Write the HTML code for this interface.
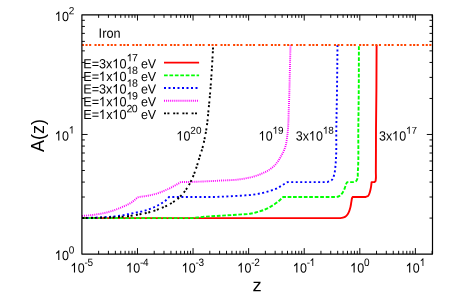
<!DOCTYPE html>
<html><head><meta charset="utf-8"><title>A(z)</title>
<style>
html,body{margin:0;padding:0;background:#fff;}
body{width:454px;height:292px;overflow:hidden;font-family:"Liberation Sans",sans-serif;}
svg{display:block}
text{font-family:"Liberation Sans",sans-serif;fill:#000;font-kerning:none}
.t{font-size:12.5px}
.s{font-size:10px}
.big{font-size:17.5px}
</style></head><body>
<svg width="454" height="292" viewBox="0 0 454 292">
<rect width="454" height="292" fill="#fff"/>

<g fill="none" stroke-width="1.9" stroke-linejoin="round">
<path d="M82.00,218.09 L336.00,218.09 C337.87,218.03 339.77,218.25 341.60,217.90 C342.76,217.68 343.97,217.49 345.00,216.90 C346.08,216.28 346.97,215.31 347.70,214.30 C348.48,213.23 348.93,211.94 349.40,210.70 C349.87,209.47 350.19,208.18 350.50,206.90 C350.91,205.16 351.08,203.36 351.40,201.60 C351.59,200.53 351.64,199.42 352.00,198.40 C352.17,197.93 352.40,197.48 352.60,197.02 L365.50,197.02 C366.40,196.62 367.50,196.50 368.20,195.80 C368.81,195.19 369.06,194.30 369.40,193.50 C369.94,192.23 370.20,190.85 370.50,189.50 C370.74,188.44 370.93,187.37 371.10,186.30 C371.32,184.90 371.43,183.49 371.60,182.08 L374.40,182.08 C374.73,181.79 375.16,181.57 375.40,181.20 C375.69,180.74 375.65,180.14 375.75,179.60 C376.20,177.11 375.82,174.53 375.85,172.00 C376.01,158.00 375.90,144.00 376.00,130.00 C376.09,116.67 376.30,103.33 376.40,90.00 C376.51,75.01 376.53,60.02 376.60,45.02" stroke="#ff0000"/>
<path d="M82.00,218.09 L192.00,218.09 C194.00,217.89 196.00,217.71 198.00,217.50 C200.00,217.28 202.00,216.99 204.00,216.80 C206.26,216.58 208.53,216.46 210.80,216.30 C215.95,215.95 221.10,215.72 226.25,215.40 C231.40,215.08 236.55,214.76 241.70,214.40 C244.47,214.21 247.26,214.23 250.00,213.80 C252.37,213.43 254.69,212.84 257.00,212.20 C259.37,211.54 261.72,210.82 264.00,209.90 C266.45,208.91 268.82,207.72 271.10,206.40 C273.61,204.95 276.05,203.34 278.30,201.50 C279.99,200.12 281.50,198.52 283.10,197.02 L309.20,197.02" stroke="#00ff00" stroke-dasharray="3.7000 1.6962"/>
<path d="M309.20,197.02 L333.00,197.02 C334.17,197.01 335.35,197.16 336.50,196.97 C337.14,196.87 337.79,196.73 338.40,196.50 C338.89,196.31 339.36,196.08 339.80,195.80 C340.63,195.26 341.29,194.48 341.90,193.70 C342.54,192.88 343.02,191.93 343.50,191.00 C344.16,189.72 344.64,188.35 345.15,187.00 C345.60,185.81 345.77,184.50 346.40,183.40 C346.66,182.94 347.00,182.52 347.30,182.08 L354.00,182.08 C354.77,181.65 355.71,181.45 356.30,180.80 C356.71,180.35 356.95,179.76 357.20,179.20 C358.20,177.01 357.63,174.40 357.80,172.00 C358.82,158.04 358.14,144.00 358.30,130.00 C358.45,116.67 358.65,103.33 358.75,90.00 C358.86,75.01 358.85,60.02 358.90,45.02" stroke="#00ff00" stroke-dasharray="3.7000 1.8024"/>
<path d="M82.00,218.09 C89.33,217.79 96.68,217.66 104.00,217.20 C107.97,216.95 111.95,216.78 115.90,216.30 C119.93,215.82 123.93,215.12 127.90,214.30 C129.27,214.02 130.63,213.69 132.00,213.40 C133.46,213.09 134.93,212.78 136.40,212.50 C137.73,212.25 139.07,212.07 140.40,211.80 C141.91,211.49 143.42,211.13 144.90,210.70 C146.42,210.26 147.92,209.76 149.40,209.20 C150.75,208.68 152.08,208.09 153.40,207.50 C154.75,206.89 156.09,206.27 157.40,205.60 C158.75,204.91 160.10,204.19 161.40,203.40 C162.77,202.56 164.16,201.73 165.40,200.70 C166.72,199.61 167.80,198.25 169.00,197.02 L194.90,197.02" stroke="#0000ff" stroke-dasharray="2.0000 2.5183"/>
<path d="M194.90,197.02 L215.00,197.02 C223.33,196.58 231.67,196.26 240.00,195.70 C244.00,195.43 248.02,195.31 252.00,194.80 C256.03,194.28 260.05,193.58 264.00,192.60 C266.56,191.97 269.10,191.23 271.60,190.40 C273.18,189.87 274.78,189.37 276.30,188.70 C278.99,187.51 281.36,185.70 283.90,184.20 C285.10,183.49 286.30,182.79 287.50,182.08 L309.20,182.08" stroke="#0000ff" stroke-dasharray="2.0000 2.5004"/>
<path d="M309.20,182.08 L327.50,182.08 C328.97,181.35 330.74,181.05 331.90,179.90 C333.27,178.54 333.63,176.44 334.20,174.60 C334.95,172.15 335.06,169.55 335.35,167.00 C335.61,164.67 335.75,162.34 335.90,160.00 C336.56,150.02 336.15,140.00 336.30,130.00 C336.50,116.67 336.81,103.33 337.00,90.00 C337.22,75.01 337.33,60.02 337.50,45.02" stroke="#0000ff" stroke-dasharray="2.0000 2.4802"/>
<path d="M82.00,216.00 C85.90,215.60 89.82,215.34 93.70,214.80 C98.30,214.16 102.91,213.49 107.40,212.30 C110.31,211.53 113.18,210.60 116.00,209.55 C117.72,208.91 119.41,208.21 121.10,207.50 C123.39,206.54 125.70,205.64 127.90,204.50 C129.23,203.82 130.56,203.14 131.80,202.30 C133.23,201.33 134.47,200.10 135.80,199.00 C136.40,198.50 136.91,197.87 137.60,197.50 C137.98,197.30 138.40,197.18 138.80,197.02 C142.37,196.48 145.97,196.15 149.50,195.40 C153.05,194.64 156.60,193.76 160.00,192.50 C161.69,191.87 163.34,191.11 165.00,190.40 C166.54,189.74 168.09,189.12 169.60,188.40 C171.44,187.52 173.22,186.50 175.00,185.50 C176.96,184.40 178.87,183.22 180.80,182.08 C184.20,182.02 187.60,181.99 191.00,181.90 C196.34,181.77 201.67,181.54 207.00,181.30 C212.00,181.07 217.00,180.77 222.00,180.50 C226.93,180.24 231.89,180.25 236.80,179.70 C237.87,179.58 238.94,179.45 240.00,179.30 C241.30,179.12 242.60,178.93 243.90,178.70 C245.24,178.46 246.57,178.17 247.90,177.90 C249.23,177.63 250.58,177.43 251.90,177.10 C253.22,176.77 254.51,176.32 255.80,175.90 C257.14,175.46 258.49,175.02 259.80,174.50 C261.16,173.96 262.48,173.33 263.80,172.70 C265.11,172.08 266.45,171.49 267.70,170.75 C268.81,170.10 269.87,169.36 270.90,168.60 C272.04,167.76 273.19,166.90 274.20,165.90 C275.07,165.04 275.84,164.07 276.60,163.10 C277.31,162.20 277.96,161.25 278.60,160.30 C279.30,159.26 279.98,158.19 280.60,157.10 C281.17,156.09 281.67,155.04 282.20,154.00 C282.74,152.94 283.31,151.89 283.80,150.80 C284.12,150.11 284.43,149.41 284.70,148.70 C285.20,147.40 285.58,146.05 285.90,144.70 C286.21,143.41 286.39,142.10 286.60,140.80 C286.79,139.60 286.94,138.40 287.10,137.20 C287.27,135.90 287.45,134.60 287.60,133.30 C287.95,130.21 288.12,127.10 288.30,124.00 C288.54,119.70 288.54,115.40 288.70,111.10 C288.82,107.77 288.98,104.43 289.10,101.10 C289.43,91.84 289.57,82.57 289.80,73.30 C290.04,63.87 290.27,54.45 290.50,45.02" stroke="#ff00ff" stroke-dasharray="1 1.06"/>
<path d="M82.00,218.09 C93.30,217.79 104.62,217.97 115.90,217.20 C119.90,216.93 123.91,216.68 127.90,216.20 C131.92,215.72 135.92,215.04 139.90,214.30 C141.60,213.99 143.31,213.67 145.00,213.30 C148.03,212.63 151.05,211.86 154.00,210.90 C157.06,209.90 160.06,208.71 163.00,207.40 C166.08,206.02 169.14,204.58 172.00,202.80 C174.23,201.41 176.43,199.93 178.40,198.20 C179.30,197.41 180.16,196.56 181.00,195.70 C182.58,194.07 184.04,192.32 185.40,190.50 C187.43,187.78 189.15,184.82 190.70,181.80 C192.31,178.65 193.56,175.32 194.80,172.00 C195.74,169.49 196.58,166.95 197.40,164.40 C198.22,161.85 198.92,159.26 199.70,156.70 C200.61,153.73 201.68,150.80 202.50,147.80 C203.40,144.50 204.12,141.15 204.80,137.80 C205.40,134.85 205.93,131.88 206.40,128.90 C206.86,125.94 207.27,122.97 207.60,120.00 C207.93,117.04 208.12,114.07 208.40,111.10 C208.68,108.13 209.02,105.17 209.30,102.20 C210.14,93.48 210.79,84.74 211.40,76.00 C212.12,65.68 212.60,55.35 213.20,45.02" stroke="#000" stroke-dasharray="2.0000 1.6358 2.0000 3.3707"/>
<path d="M81.9,45.02 L432.5,45.02" stroke="#ff4500" stroke-dasharray="2.1 1.5 2.1 1.5 2.1 3.3"/>
<path d="M164,62.65 H199.1" stroke="#ff0000"/>
<path d="M164,75.35 H199.1" stroke="#00ff00" stroke-dasharray="3.7 1.73"/>
<path d="M164,88.0 H199.1" stroke="#0000ff" stroke-dasharray="2 2.5"/>
<path d="M164,100.7 H199.1" stroke="#ff00ff" stroke-dasharray="1 1.06"/>
<path d="M164,113.35 H199.1" stroke="#000" stroke-dasharray="2 1.4 2 3.8"/>
</g>
<g fill="none" stroke="#000">
<rect x="81.9" y="14.85" width="350.6" height="239.25" stroke-width="1.2" stroke-linejoin="round"/>
<path d="M98.63,254.1 v-3.3 M98.63,14.85 v3.0 M108.42,254.1 v-3.3 M108.42,14.85 v3.0 M115.36,254.1 v-3.3 M115.36,14.85 v3.0 M120.75,254.1 v-3.3 M120.75,14.85 v3.0 M125.15,254.1 v-3.3 M125.15,14.85 v3.0 M128.87,254.1 v-3.3 M128.87,14.85 v3.0 M132.09,254.1 v-3.3 M132.09,14.85 v3.0 M134.94,254.1 v-3.3 M134.94,14.85 v3.0 M137.48,254.1 v-6.0 M137.48,14.85 v5.7 M154.21,254.1 v-3.3 M154.21,14.85 v3.0 M164.00,254.1 v-3.3 M164.00,14.85 v3.0 M170.94,254.1 v-3.3 M170.94,14.85 v3.0 M176.33,254.1 v-3.3 M176.33,14.85 v3.0 M180.73,254.1 v-3.3 M180.73,14.85 v3.0 M184.45,254.1 v-3.3 M184.45,14.85 v3.0 M187.67,254.1 v-3.3 M187.67,14.85 v3.0 M190.52,254.1 v-3.3 M190.52,14.85 v3.0 M193.06,254.1 v-6.0 M193.06,14.85 v5.7 M209.79,254.1 v-3.3 M209.79,14.85 v3.0 M219.58,254.1 v-3.3 M219.58,14.85 v3.0 M226.52,254.1 v-3.3 M226.52,14.85 v3.0 M231.91,254.1 v-3.3 M231.91,14.85 v3.0 M236.31,254.1 v-3.3 M236.31,14.85 v3.0 M240.03,254.1 v-3.3 M240.03,14.85 v3.0 M243.25,254.1 v-3.3 M243.25,14.85 v3.0 M246.10,254.1 v-3.3 M246.10,14.85 v3.0 M248.64,254.1 v-6.0 M248.64,14.85 v5.7 M265.37,254.1 v-3.3 M265.37,14.85 v3.0 M275.16,254.1 v-3.3 M275.16,14.85 v3.0 M282.10,254.1 v-3.3 M282.10,14.85 v3.0 M287.49,254.1 v-3.3 M287.49,14.85 v3.0 M291.89,254.1 v-3.3 M291.89,14.85 v3.0 M295.61,254.1 v-3.3 M295.61,14.85 v3.0 M298.83,254.1 v-3.3 M298.83,14.85 v3.0 M301.68,254.1 v-3.3 M301.68,14.85 v3.0 M304.22,254.1 v-6.0 M304.22,14.85 v5.7 M320.95,254.1 v-3.3 M320.95,14.85 v3.0 M330.74,254.1 v-3.3 M330.74,14.85 v3.0 M337.68,254.1 v-3.3 M337.68,14.85 v3.0 M343.07,254.1 v-3.3 M343.07,14.85 v3.0 M347.47,254.1 v-3.3 M347.47,14.85 v3.0 M351.19,254.1 v-3.3 M351.19,14.85 v3.0 M354.41,254.1 v-3.3 M354.41,14.85 v3.0 M357.26,254.1 v-3.3 M357.26,14.85 v3.0 M359.80,254.1 v-6.0 M359.80,14.85 v5.7 M376.53,254.1 v-3.3 M376.53,14.85 v3.0 M386.32,254.1 v-3.3 M386.32,14.85 v3.0 M393.26,254.1 v-3.3 M393.26,14.85 v3.0 M398.65,254.1 v-3.3 M398.65,14.85 v3.0 M403.05,254.1 v-3.3 M403.05,14.85 v3.0 M406.77,254.1 v-3.3 M406.77,14.85 v3.0 M409.99,254.1 v-3.3 M409.99,14.85 v3.0 M412.84,254.1 v-3.3 M412.84,14.85 v3.0 M415.38,254.1 v-6.0 M415.38,14.85 v5.7 M432.11,254.1 v-3.3 M432.11,14.85 v3.0 M81.9,218.09 h3.0 M432.5,218.09 h-3.0 M81.9,197.02 h3.0 M432.5,197.02 h-3.0 M81.9,182.08 h3.0 M432.5,182.08 h-3.0 M81.9,170.49 h3.0 M432.5,170.49 h-3.0 M81.9,161.01 h3.0 M432.5,161.01 h-3.0 M81.9,153.01 h3.0 M432.5,153.01 h-3.0 M81.9,146.07 h3.0 M432.5,146.07 h-3.0 M81.9,139.95 h3.0 M432.5,139.95 h-3.0 M81.9,134.47 h5.7 M432.5,134.47 h-5.7 M81.9,98.46 h3.0 M432.5,98.46 h-3.0 M81.9,77.40 h3.0 M432.5,77.40 h-3.0 M81.9,62.45 h3.0 M432.5,62.45 h-3.0 M81.9,50.86 h3.0 M432.5,50.86 h-3.0 M81.9,41.39 h3.0 M432.5,41.39 h-3.0 M81.9,33.38 h3.0 M432.5,33.38 h-3.0 M81.9,26.44 h3.0 M432.5,26.44 h-3.0 M81.9,20.32 h3.0 M432.5,20.32 h-3.0" stroke-width="0.95"/>
</g>
<defs><filter id="gr" x="0" y="0" width="454" height="292" filterUnits="userSpaceOnUse" color-interpolation-filters="sRGB"><feColorMatrix type="saturate" values="0"/></filter></defs>
<g filter="url(#gr)">
<path transform="translate(70.70,272.45) scale(12.500,13.375)" d="M0.348,0 L0.26,0 L0.26,-0.562 Q0.175,-0.49 0.084,-0.452 L0.084,-0.538 Q0.225,-0.6 0.291,-0.716 L0.348,-0.716 Z"/>
<text transform="translate(77.66,272.45) rotate(0.03) scale(1,1.07)" font-size="12.5" letter-spacing="0">0</text>
<text transform="translate(84.41,266.00) rotate(0.03) scale(1,1.07)" font-size="10" letter-spacing="-0.3">-5</text>
<path transform="translate(126.29,272.45) scale(12.500,13.375)" d="M0.348,0 L0.26,0 L0.26,-0.562 Q0.175,-0.49 0.084,-0.452 L0.084,-0.538 Q0.225,-0.6 0.291,-0.716 L0.348,-0.716 Z"/>
<text transform="translate(133.24,272.45) rotate(0.03) scale(1,1.07)" font-size="12.5" letter-spacing="0">0</text>
<text transform="translate(139.99,266.00) rotate(0.03) scale(1,1.07)" font-size="10" letter-spacing="-0.3">-4</text>
<path transform="translate(181.87,272.45) scale(12.500,13.375)" d="M0.348,0 L0.26,0 L0.26,-0.562 Q0.175,-0.49 0.084,-0.452 L0.084,-0.538 Q0.225,-0.6 0.291,-0.716 L0.348,-0.716 Z"/>
<text transform="translate(188.81,272.45) rotate(0.03) scale(1,1.07)" font-size="12.5" letter-spacing="0">0</text>
<text transform="translate(195.57,266.00) rotate(0.03) scale(1,1.07)" font-size="10" letter-spacing="-0.3">-3</text>
<path transform="translate(237.45,272.45) scale(12.500,13.375)" d="M0.348,0 L0.26,0 L0.26,-0.562 Q0.175,-0.49 0.084,-0.452 L0.084,-0.538 Q0.225,-0.6 0.291,-0.716 L0.348,-0.716 Z"/>
<text transform="translate(244.40,272.45) rotate(0.03) scale(1,1.07)" font-size="12.5" letter-spacing="0">0</text>
<text transform="translate(251.15,266.00) rotate(0.03) scale(1,1.07)" font-size="10" letter-spacing="-0.3">-2</text>
<path transform="translate(293.03,272.45) scale(12.500,13.375)" d="M0.348,0 L0.26,0 L0.26,-0.562 Q0.175,-0.49 0.084,-0.452 L0.084,-0.538 Q0.225,-0.6 0.291,-0.716 L0.348,-0.716 Z"/>
<text transform="translate(299.98,272.45) rotate(0.03) scale(1,1.07)" font-size="12.5" letter-spacing="0">0</text>
<text transform="translate(306.73,266.00) rotate(0.03) scale(1,1.07)" font-size="10" letter-spacing="-0.3">-</text>
<path transform="translate(309.75,266.00) scale(10.000,10.700)" d="M0.348,0 L0.26,0 L0.26,-0.562 Q0.175,-0.49 0.084,-0.452 L0.084,-0.538 Q0.225,-0.6 0.291,-0.716 L0.348,-0.716 Z"/>
<path transform="translate(350.32,272.45) scale(12.500,13.375)" d="M0.348,0 L0.26,0 L0.26,-0.562 Q0.175,-0.49 0.084,-0.452 L0.084,-0.538 Q0.225,-0.6 0.291,-0.716 L0.348,-0.716 Z"/>
<text transform="translate(357.27,272.45) rotate(0.03) scale(1,1.07)" font-size="12.5" letter-spacing="0">0</text>
<text transform="translate(364.02,266.00) rotate(0.03) scale(1,1.07)" font-size="10" letter-spacing="-0.3">0</text>
<path transform="translate(405.90,272.45) scale(12.500,13.375)" d="M0.348,0 L0.26,0 L0.26,-0.562 Q0.175,-0.49 0.084,-0.452 L0.084,-0.538 Q0.225,-0.6 0.291,-0.716 L0.348,-0.716 Z"/>
<text transform="translate(412.85,272.45) rotate(0.03) scale(1,1.07)" font-size="12.5" letter-spacing="0">0</text>
<path transform="translate(419.90,266.00) scale(10.000,10.700)" d="M0.348,0 L0.26,0 L0.26,-0.562 Q0.175,-0.49 0.084,-0.452 L0.084,-0.538 Q0.225,-0.6 0.291,-0.716 L0.348,-0.716 Z"/>
<path transform="translate(54.99,259.95) scale(12.500,13.375)" d="M0.348,0 L0.26,0 L0.26,-0.562 Q0.175,-0.49 0.084,-0.452 L0.084,-0.538 Q0.225,-0.6 0.291,-0.716 L0.348,-0.716 Z"/>
<text transform="translate(61.94,259.95) rotate(0.03) scale(1,1.07)" font-size="12.5" letter-spacing="0">0</text>
<text transform="translate(68.69,253.40) rotate(0.03) scale(1,1.05)" font-size="10" letter-spacing="-0.3">0</text>
<path transform="translate(54.99,140.43) scale(12.500,13.375)" d="M0.348,0 L0.26,0 L0.26,-0.562 Q0.175,-0.49 0.084,-0.452 L0.084,-0.538 Q0.225,-0.6 0.291,-0.716 L0.348,-0.716 Z"/>
<text transform="translate(61.94,140.43) rotate(0.03) scale(1,1.07)" font-size="12.5" letter-spacing="0">0</text>
<path transform="translate(68.99,133.43) scale(10.000,10.500)" d="M0.348,0 L0.26,0 L0.26,-0.562 Q0.175,-0.49 0.084,-0.452 L0.084,-0.538 Q0.225,-0.6 0.291,-0.716 L0.348,-0.716 Z"/>
<path transform="translate(54.99,21.00) scale(12.500,13.375)" d="M0.348,0 L0.26,0 L0.26,-0.562 Q0.175,-0.49 0.084,-0.452 L0.084,-0.538 Q0.225,-0.6 0.291,-0.716 L0.348,-0.716 Z"/>
<text transform="translate(61.94,21.00) rotate(0.03) scale(1,1.07)" font-size="12.5" letter-spacing="0">0</text>
<text transform="translate(68.69,14.20) rotate(0.03) scale(1,1.05)" font-size="10" letter-spacing="-0.3">2</text>
<text transform="translate(83.20,68.20) rotate(0.03) scale(1,1.045)" font-size="12.7" letter-spacing="0">E=3x</text>
<path transform="translate(112.50,68.20) scale(12.700,13.271)" d="M0.348,0 L0.26,0 L0.26,-0.562 Q0.175,-0.49 0.084,-0.452 L0.084,-0.538 Q0.225,-0.6 0.291,-0.716 L0.348,-0.716 Z"/>
<text transform="translate(119.56,68.20) rotate(0.03) scale(1,1.045)" font-size="12.7" letter-spacing="0">0</text>
<path transform="translate(126.82,61.35) scale(10.600,10.600)" d="M0.348,0 L0.26,0 L0.26,-0.562 Q0.175,-0.49 0.084,-0.452 L0.084,-0.538 Q0.225,-0.6 0.291,-0.716 L0.348,-0.716 Z"/>
<text transform="translate(131.96,61.35) rotate(0.03) scale(1,1)" font-size="10.6" letter-spacing="-0.75">7</text>
<text transform="translate(140.88,68.20) rotate(0.03) scale(1,1.045)" font-size="12.5" letter-spacing="0">eV</text>
<text transform="translate(83.20,80.90) rotate(0.03) scale(1,1.045)" font-size="12.7" letter-spacing="0">E=</text>
<path transform="translate(99.09,80.90) scale(12.700,13.271)" d="M0.348,0 L0.26,0 L0.26,-0.562 Q0.175,-0.49 0.084,-0.452 L0.084,-0.538 Q0.225,-0.6 0.291,-0.716 L0.348,-0.716 Z"/>
<text transform="translate(106.15,80.90) rotate(0.03) scale(1,1.045)" font-size="12.7" letter-spacing="0">x</text>
<path transform="translate(112.50,80.90) scale(12.700,13.271)" d="M0.348,0 L0.26,0 L0.26,-0.562 Q0.175,-0.49 0.084,-0.452 L0.084,-0.538 Q0.225,-0.6 0.291,-0.716 L0.348,-0.716 Z"/>
<text transform="translate(119.56,80.90) rotate(0.03) scale(1,1.045)" font-size="12.7" letter-spacing="0">0</text>
<path transform="translate(126.82,74.05) scale(10.600,10.600)" d="M0.348,0 L0.26,0 L0.26,-0.562 Q0.175,-0.49 0.084,-0.452 L0.084,-0.538 Q0.225,-0.6 0.291,-0.716 L0.348,-0.716 Z"/>
<text transform="translate(131.96,74.05) rotate(0.03) scale(1,1)" font-size="10.6" letter-spacing="-0.75">8</text>
<text transform="translate(140.88,80.90) rotate(0.03) scale(1,1.045)" font-size="12.5" letter-spacing="0">eV</text>
<text transform="translate(83.20,93.60) rotate(0.03) scale(1,1.045)" font-size="12.7" letter-spacing="0">E=3x</text>
<path transform="translate(112.50,93.60) scale(12.700,13.271)" d="M0.348,0 L0.26,0 L0.26,-0.562 Q0.175,-0.49 0.084,-0.452 L0.084,-0.538 Q0.225,-0.6 0.291,-0.716 L0.348,-0.716 Z"/>
<text transform="translate(119.56,93.60) rotate(0.03) scale(1,1.045)" font-size="12.7" letter-spacing="0">0</text>
<path transform="translate(126.82,86.75) scale(10.600,10.600)" d="M0.348,0 L0.26,0 L0.26,-0.562 Q0.175,-0.49 0.084,-0.452 L0.084,-0.538 Q0.225,-0.6 0.291,-0.716 L0.348,-0.716 Z"/>
<text transform="translate(131.96,86.75) rotate(0.03) scale(1,1)" font-size="10.6" letter-spacing="-0.75">8</text>
<text transform="translate(140.88,93.60) rotate(0.03) scale(1,1.045)" font-size="12.5" letter-spacing="0">eV</text>
<text transform="translate(83.20,106.30) rotate(0.03) scale(1,1.045)" font-size="12.7" letter-spacing="0">E=</text>
<path transform="translate(99.09,106.30) scale(12.700,13.271)" d="M0.348,0 L0.26,0 L0.26,-0.562 Q0.175,-0.49 0.084,-0.452 L0.084,-0.538 Q0.225,-0.6 0.291,-0.716 L0.348,-0.716 Z"/>
<text transform="translate(106.15,106.30) rotate(0.03) scale(1,1.045)" font-size="12.7" letter-spacing="0">x</text>
<path transform="translate(112.50,106.30) scale(12.700,13.271)" d="M0.348,0 L0.26,0 L0.26,-0.562 Q0.175,-0.49 0.084,-0.452 L0.084,-0.538 Q0.225,-0.6 0.291,-0.716 L0.348,-0.716 Z"/>
<text transform="translate(119.56,106.30) rotate(0.03) scale(1,1.045)" font-size="12.7" letter-spacing="0">0</text>
<path transform="translate(126.82,99.45) scale(10.600,10.600)" d="M0.348,0 L0.26,0 L0.26,-0.562 Q0.175,-0.49 0.084,-0.452 L0.084,-0.538 Q0.225,-0.6 0.291,-0.716 L0.348,-0.716 Z"/>
<text transform="translate(131.96,99.45) rotate(0.03) scale(1,1)" font-size="10.6" letter-spacing="-0.75">9</text>
<text transform="translate(140.88,106.30) rotate(0.03) scale(1,1.045)" font-size="12.5" letter-spacing="0">eV</text>
<text transform="translate(83.20,119.00) rotate(0.03) scale(1,1.045)" font-size="12.7" letter-spacing="0">E=</text>
<path transform="translate(99.09,119.00) scale(12.700,13.271)" d="M0.348,0 L0.26,0 L0.26,-0.562 Q0.175,-0.49 0.084,-0.452 L0.084,-0.538 Q0.225,-0.6 0.291,-0.716 L0.348,-0.716 Z"/>
<text transform="translate(106.15,119.00) rotate(0.03) scale(1,1.045)" font-size="12.7" letter-spacing="0">x</text>
<path transform="translate(112.50,119.00) scale(12.700,13.271)" d="M0.348,0 L0.26,0 L0.26,-0.562 Q0.175,-0.49 0.084,-0.452 L0.084,-0.538 Q0.225,-0.6 0.291,-0.716 L0.348,-0.716 Z"/>
<text transform="translate(119.56,119.00) rotate(0.03) scale(1,1.045)" font-size="12.7" letter-spacing="0">0</text>
<text transform="translate(126.52,112.15) rotate(0.03) scale(1,1)" font-size="10.6" letter-spacing="-0.75">20</text>
<text transform="translate(140.88,119.00) rotate(0.03) scale(1,1.045)" font-size="12.5" letter-spacing="0">eV</text>
<text transform="translate(98.60,37.70) rotate(0.03) scale(1.02,1.07)" font-size="12.5" letter-spacing="0">Iron</text>
<path transform="translate(176.55,140.60) scale(12.500,13.375)" d="M0.348,0 L0.26,0 L0.26,-0.562 Q0.175,-0.49 0.084,-0.452 L0.084,-0.538 Q0.225,-0.6 0.291,-0.716 L0.348,-0.716 Z"/>
<text transform="translate(183.50,140.60) rotate(0.03) scale(1,1.07)" font-size="12.5" letter-spacing="0">0</text>
<text transform="translate(190.25,133.70) rotate(0.03) scale(1,1)" font-size="10" letter-spacing="0.2">20</text>
<path transform="translate(258.75,140.60) scale(12.500,13.375)" d="M0.348,0 L0.26,0 L0.26,-0.562 Q0.175,-0.49 0.084,-0.452 L0.084,-0.538 Q0.225,-0.6 0.291,-0.716 L0.348,-0.716 Z"/>
<text transform="translate(265.70,140.60) rotate(0.03) scale(1,1.07)" font-size="12.5" letter-spacing="0">0</text>
<path transform="translate(272.75,133.70) scale(10.000,10.000)" d="M0.348,0 L0.26,0 L0.26,-0.562 Q0.175,-0.49 0.084,-0.452 L0.084,-0.538 Q0.225,-0.6 0.291,-0.716 L0.348,-0.716 Z"/>
<text transform="translate(278.01,133.70) rotate(0.03) scale(1,1)" font-size="10" letter-spacing="-0.3">9</text>
<text transform="translate(295.80,140.60) rotate(0.03) scale(1,1.07)" font-size="12.5" letter-spacing="0">3x</text>
<path transform="translate(309.00,140.60) scale(12.500,13.375)" d="M0.348,0 L0.26,0 L0.26,-0.562 Q0.175,-0.49 0.084,-0.452 L0.084,-0.538 Q0.225,-0.6 0.291,-0.716 L0.348,-0.716 Z"/>
<text transform="translate(315.95,140.60) rotate(0.03) scale(1,1.07)" font-size="12.5" letter-spacing="0">0</text>
<path transform="translate(323.00,133.70) scale(10.000,10.000)" d="M0.348,0 L0.26,0 L0.26,-0.562 Q0.175,-0.49 0.084,-0.452 L0.084,-0.538 Q0.225,-0.6 0.291,-0.716 L0.348,-0.716 Z"/>
<text transform="translate(328.26,133.70) rotate(0.03) scale(1,1)" font-size="10" letter-spacing="-0.3">8</text>
<text transform="translate(379.00,140.60) rotate(0.03) scale(1,1.07)" font-size="12.5" letter-spacing="0">3x</text>
<path transform="translate(392.20,140.60) scale(12.500,13.375)" d="M0.348,0 L0.26,0 L0.26,-0.562 Q0.175,-0.49 0.084,-0.452 L0.084,-0.538 Q0.225,-0.6 0.291,-0.716 L0.348,-0.716 Z"/>
<text transform="translate(399.15,140.60) rotate(0.03) scale(1,1.07)" font-size="12.5" letter-spacing="0">0</text>
<path transform="translate(406.20,133.70) scale(10.000,10.000)" d="M0.348,0 L0.26,0 L0.26,-0.562 Q0.175,-0.49 0.084,-0.452 L0.084,-0.538 Q0.225,-0.6 0.291,-0.716 L0.348,-0.716 Z"/>
<text transform="translate(411.46,133.70) rotate(0.03) scale(1,1)" font-size="10" letter-spacing="-0.3">7</text>
<text transform="translate(252.47,291.20) rotate(0.03) scale(1.04,1.02)" font-size="17.6" letter-spacing="0">z</text>
<text transform="translate(44.1,135.6) rotate(-90)" font-size="18" text-anchor="middle">A(z)</text>
</g>
</svg></body></html>
